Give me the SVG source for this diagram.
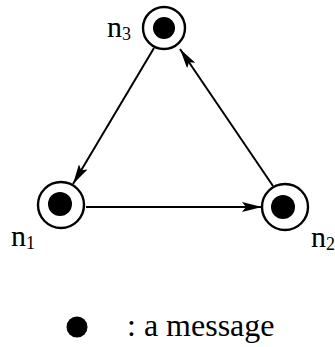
<svg xmlns="http://www.w3.org/2000/svg" width="335" height="347" viewBox="0 0 335 347">
<style>
.ring{fill:#fff;stroke:#000;stroke-width:2.4}
.msg{fill:#000}
.edge{stroke:#000;stroke-width:2;fill:none}
.lbl{font-family:"Liberation Serif","Times New Roman",serif;font-size:30px;fill:#000}
.sub{font-size:18px}
.leg{font-family:"Liberation Serif","Times New Roman",serif;font-size:32px;fill:#000}
</style>
<defs>
<marker id="ah" viewBox="0 0 20 10" refX="20" refY="5" markerWidth="20" markerHeight="10" markerUnits="userSpaceOnUse" orient="auto">
<path d="M0,0 L20,5 L0,10 L4,5 Z" fill="#000"/>
</marker>
</defs>
<g id="edges">
<line class="edge" x1="154" y1="48" x2="73" y2="184" marker-end="url(#ah)"/>
<line class="edge" x1="86" y1="207" x2="262" y2="207" marker-end="url(#ah)"/>
<line class="edge" x1="273" y1="186" x2="180" y2="49" marker-end="url(#ah)"/>
</g>
<g id="n3">
<circle class="ring" cx="164" cy="28" r="21"/>
<circle class="msg" cx="164" cy="28" r="11"/>
<text class="lbl" x="107" y="37">n<tspan class="sub" dy="3">3</tspan></text>
</g>
<g id="n1">
<circle class="ring" cx="61" cy="205" r="23"/>
<circle class="msg" cx="60" cy="204" r="12"/>
<text class="lbl" x="11" y="246">n<tspan class="sub" dy="3">1</tspan></text>
</g>
<g id="n2">
<circle class="ring" cx="285" cy="207" r="23"/>
<circle class="msg" cx="283" cy="207" r="12"/>
<text class="lbl" x="311" y="247">n<tspan class="sub" dy="3">2</tspan></text>
</g>
<g id="legend">
<circle class="msg" cx="77" cy="327" r="10.5"/>
<text class="leg" x="127" y="336">: a message</text>
</g>
</svg>
